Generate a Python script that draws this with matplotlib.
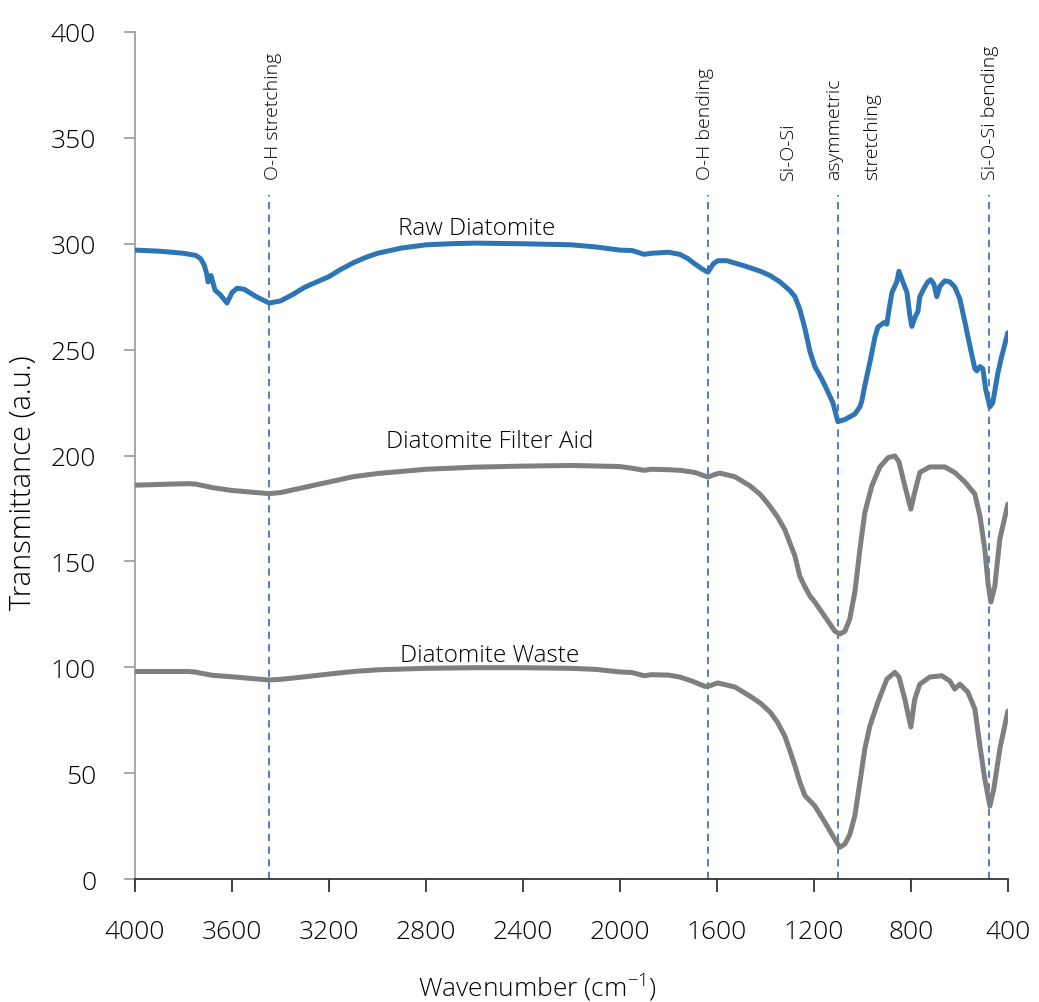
import numpy as np
import matplotlib
matplotlib.use('Agg')
import matplotlib.pyplot as plt

plt.rcParams['font.family'] = ['Open Sans', 'DejaVu Sans']
plt.rcParams['mathtext.fontset'] = 'custom'
plt.rcParams['mathtext.rm'] = 'Open Sans:light'
plt.rcParams['axes.unicode_minus'] = False

# Raw Diatomite (blue)
raw_wn = [4000, 3900, 3800, 3750, 3730, 3715, 3705, 3699, 3687, 3670, 3649, 3621,
          3600, 3579, 3550, 3500, 3447, 3400, 3350, 3300, 3250, 3200, 3150, 3100,
          3050, 3000, 2900, 2800, 2700, 2600, 2400, 2200, 2100, 2000, 1950,
          1900, 1870, 1800, 1753, 1720, 1691, 1660, 1637, 1615, 1596, 1559, 1485,
          1420, 1381, 1340, 1320, 1300, 1278, 1258, 1237, 1216, 1196, 1167, 1146,
          1122, 1101, 1072, 1031, 1010, 1002, 990, 969, 948, 936, 920, 907, 899,
          890, 878, 858, 849, 833, 816, 804, 796, 784, 771, 763, 746, 730, 718,
          705, 693, 680, 660, 639, 619, 598, 577, 557, 536, 528, 515, 503, 491,
          474, 462, 441, 425, 400]
raw_t = [297, 296.5, 295.5, 294.5, 293, 290, 286, 282, 285, 278, 276, 272,
         277, 279, 278.5, 275, 272, 273, 276, 279.5, 282, 284.5, 288, 291,
         293.5, 295.5, 298, 299.5, 300, 300.3, 300, 299.5, 298.5, 297, 296.8,
         295, 295.5, 296, 295, 293, 290.5, 288, 286.6, 290.5, 292, 292, 289.5,
         287, 285, 282, 280, 278, 275, 269, 260, 249, 242, 236, 231,
         225, 216, 217, 219.6, 223, 226, 233, 244, 256, 260.6, 262, 263, 262,
         269, 277, 282, 287, 282, 277, 266, 261, 265, 268, 275, 279, 282, 283,
         281, 275, 280, 282.5, 282, 279.6, 274, 263, 252, 241, 240, 242, 241, 231,
         223, 225, 239, 247, 258]

# Diatomite Filter Aid (grey)
aid_wn = [4000, 3850, 3780, 3750, 3720, 3680, 3600, 3500, 3447, 3400, 3300, 3200,
          3100, 3000, 2900, 2800, 2600, 2400, 2200, 2000, 1950, 1900, 1870, 1800,
          1753, 1691, 1637, 1610, 1588, 1526, 1464, 1420, 1381, 1350, 1320, 1300,
          1278, 1258, 1237, 1216, 1196, 1155, 1113, 1093, 1072, 1052, 1031, 1010,
          990, 961, 928, 894, 866, 849, 825, 800, 784, 763, 722, 660, 619, 577,
          536, 515, 495, 482, 470, 454, 433, 400]
aid_t = [186, 186.5, 186.7, 186.5, 185.8, 184.8, 183.5, 182.5, 182, 182.5, 185, 187.5,
         190, 191.5, 192.5, 193.5, 194.5, 195, 195.3, 194.8, 194, 193, 193.5, 193.3,
         193, 192, 189.8, 191, 191.7, 190, 185.7, 181.5, 176, 171, 165, 159,
         152.5, 143, 138, 133.6, 130.8, 124, 117, 115.7, 117, 122.8, 135.5, 155.8,
         173, 185.7, 194.6, 199, 199.8, 197, 185.7, 174.7, 182.7, 192, 194.6, 194.6,
         192, 187.5, 181.8, 171.4, 155.8, 140, 130.8, 138, 160.6, 177]

# Diatomite Waste (grey)
waste_wn = [4000, 3850, 3780, 3750, 3720, 3680, 3600, 3500, 3447, 3400, 3300, 3200,
            3100, 3000, 2800, 2600, 2400, 2200, 2100, 2000, 1950, 1900, 1870, 1800,
            1753, 1703, 1650, 1637, 1596, 1526, 1464, 1420, 1381, 1350, 1320, 1300,
            1278, 1258, 1237, 1196, 1155, 1122, 1093, 1072, 1052, 1031, 1010, 990,
            969, 936, 899, 866, 849, 825, 800, 784, 763, 722, 672, 639, 619, 598,
            565, 536, 515, 495, 474, 458, 433, 400]
waste_t = [98, 98, 98, 97.7, 97, 96.2, 95.5, 94.5, 94, 94.3, 95.5, 96.8,
           98, 98.8, 99.5, 99.8, 99.8, 99.5, 99, 97.8, 97.5, 96, 96.5, 96.3,
           95.4, 93.5, 91, 91, 92.6, 90.7, 86.4, 83, 78.9, 74, 67.5, 61,
           53.4, 45.8, 39.4, 34.5, 26.9, 20.4, 15, 16.5, 21, 29.9, 45.8, 61.4,
           72.3, 83.5, 94.4, 97.6, 95.4, 85, 71.8, 85, 92, 95.4, 96, 93.5, 89.7, 92,
           88.3, 80.3, 62.8, 47.2, 34.5, 42.5, 61.4, 79.3]

series_names = ['Raw Diatomite', 'Diatomite Filter Aid', 'Diatomite Waste']
name_pos = [(2590, 304.6), (2536, 204), (2536, 103)]

band_wn = [3447, 1637, 1101, 478]
band_labels = [(3431, 'O-H stretching'), (1649, 'O-H bending'),
               (1307, 'Si-O-Si'), (1118, 'asymmetric'),
               (961, 'stretching'), (474, 'Si-O-Si bending')]

fig = plt.figure(figsize=(10.39, 10.03), dpi=100)
ax = fig.add_axes([0.13, 0.1226, 0.84, 0.8445])

for w in band_wn:
    ax.plot([w, w], [0, 323], color='#4472C4', lw=1.3, ls=(0, (4, 3)), zorder=1)

ax.plot(raw_wn, raw_t, color='#2E75B6', lw=3.6, solid_joinstyle='round',
        solid_capstyle='round', zorder=3)
ax.plot(aid_wn, aid_t, color='#7F7F7F', lw=3.6, solid_joinstyle='round',
        solid_capstyle='round', zorder=3)
ax.plot(waste_wn, waste_t, color='#7F7F7F', lw=3.6, solid_joinstyle='round',
        solid_capstyle='round', zorder=3)

for nm, (x, y) in zip(series_names, name_pos):
    ax.text(x, y, nm, fontsize=17.5, ha='center', va='baseline', color='black',
            fontweight='light')

for x, s in band_labels:
    ax.text(x, 330.6, s, rotation=90, fontsize=14, ha='center', va='bottom',
            color='black', fontweight='light')

ax.set_xlim(4000, 400)
ax.set_ylim(0, 400)
ax.set_xticks(np.arange(4000, 399, -400))
ax.set_yticks(np.arange(0, 401, 50))
ax.tick_params(axis='x', direction='out', length=9, width=1.3, color='#333333',
               labelsize=19, pad=20, labelcolor='black')
ax.tick_params(axis='y', direction='out', length=8, width=1.3, color='#A0A0A0',
               labelsize=19, pad=20, labelcolor='black')
for lb in ax.get_xticklabels() + ax.get_yticklabels():
    lb.set_fontweight('light')
ax.spines['top'].set_visible(False)
ax.spines['right'].set_visible(False)
ax.spines['left'].set_color('#A0A0A0')
ax.spines['left'].set_linewidth(1.3)
ax.spines['bottom'].set_color('#333333')
ax.spines['bottom'].set_linewidth(1.3)

ax.set_xlabel('Wavenumber (cm$^{-1}$)', fontsize=19, fontweight='light', color='black')
ax.xaxis.set_label_coords(0.4616, -0.107)
ax.set_ylabel('Transmittance (a.u.)', fontsize=21, fontweight='light', color='black')
ax.yaxis.set_label_coords(-0.111, 0.469)

fig.savefig('out.png', dpi=100)
